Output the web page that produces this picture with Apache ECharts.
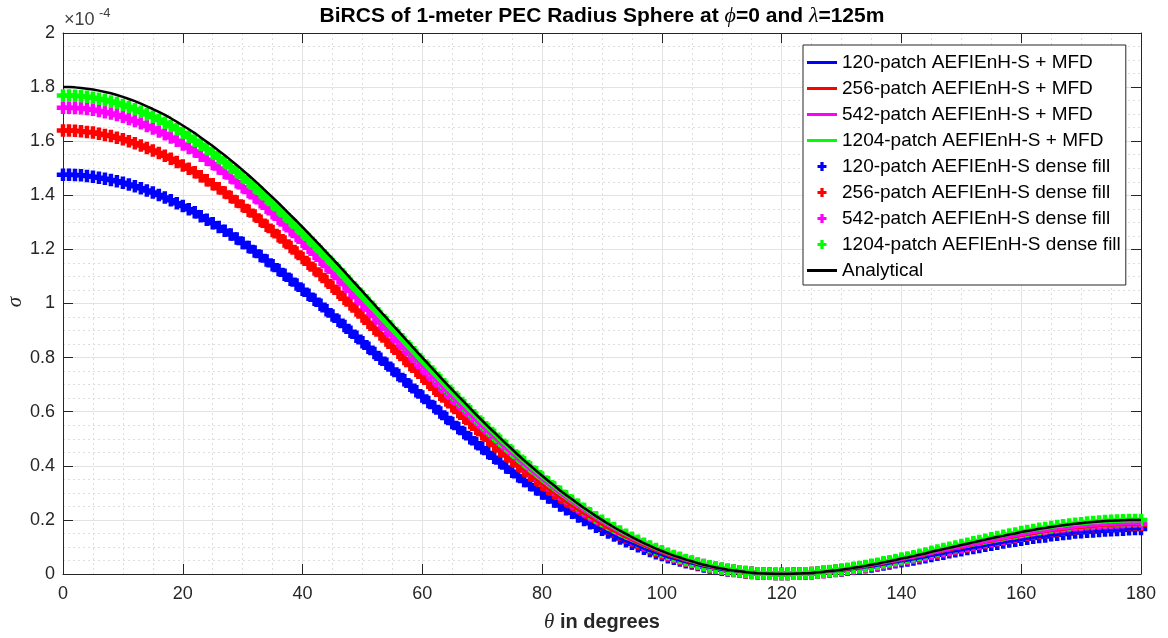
<!DOCTYPE html>
<html>
<head>
<meta charset="utf-8">
<title>BiRCS of 1-meter PEC Radius Sphere</title>
<script src="https://cdn.jsdelivr.net/npm/echarts@6/dist/echarts.min.js"></script>
<style>
  html, body { margin: 0; padding: 0; background: #fff; }
  #chart { width: 1168px; height: 638px; }
</style>
</head>
<body>
<div id="chart"></div>
<script>
// theta runs 0..180 deg, one sample per degree
var thetaStep = 1;
var xTicks = [0, 20, 40, 60, 80, 100, 120, 140, 160, 180];
var yTicks = [0, 0.2, 0.4, 0.6, 0.8, 1, 1.2, 1.4, 1.6, 1.8, 2];

// sigma in units of 1e-4
var analytical = [
  1.800,1.800,1.799,1.797,1.794,1.791,1.787,1.782,1.777,1.771,
  1.764,1.756,1.748,1.739,1.729,1.719,1.708,1.697,1.685,1.672,
  1.658,1.644,1.630,1.614,1.598,1.582,1.565,1.548,1.530,1.512,
  1.493,1.474,1.454,1.434,1.413,1.392,1.371,1.349,1.327,1.305,
  1.282,1.259,1.236,1.213,1.189,1.166,1.142,1.118,1.093,1.069,
  1.045,1.020,0.996,0.971,0.947,0.922,0.898,0.873,0.849,0.824,
  0.800,0.776,0.752,0.728,0.704,0.681,0.658,0.635,0.612,0.589,
  0.567,0.545,0.524,0.502,0.481,0.461,0.440,0.420,0.401,0.382,
  0.363,0.345,0.327,0.309,0.292,0.276,0.260,0.244,0.229,0.214,
  0.200,0.186,0.173,0.160,0.148,0.136,0.125,0.114,0.104,0.094,
  0.085,0.076,0.068,0.061,0.053,0.047,0.040,0.034,0.029,0.024,
  0.020,0.016,0.013,0.010,0.007,0.005,0.003,0.002,0.001,0.000,
  0.000,0.000,0.001,0.002,0.003,0.004,0.006,0.008,0.011,0.013,
  0.016,0.019,0.023,0.026,0.030,0.034,0.038,0.043,0.047,0.052,
  0.057,0.061,0.066,0.071,0.076,0.082,0.087,0.092,0.097,0.102,
  0.107,0.112,0.117,0.122,0.127,0.132,0.137,0.141,0.146,0.150,
  0.155,0.159,0.163,0.167,0.170,0.174,0.177,0.180,0.183,0.186,
  0.188,0.190,0.192,0.194,0.196,0.197,0.198,0.199,0.200,0.200,0.200
];

var patch120 = [
  1.476,1.476,1.475,1.474,1.471,1.469,1.465,1.461,1.457,1.452,
  1.446,1.440,1.433,1.426,1.418,1.410,1.401,1.392,1.382,1.371,
  1.360,1.348,1.337,1.323,1.310,1.297,1.283,1.269,1.255,1.240,
  1.224,1.209,1.192,1.176,1.159,1.141,1.124,1.106,1.088,1.070,
  1.051,1.032,1.014,0.995,0.975,0.956,0.936,0.917,0.896,0.877,
  0.857,0.836,0.817,0.796,0.777,0.756,0.736,0.716,0.696,0.676,
  0.656,0.636,0.617,0.597,0.577,0.558,0.540,0.521,0.502,0.483,
  0.465,0.447,0.430,0.412,0.394,0.378,0.361,0.344,0.329,0.313,
  0.298,0.283,0.268,0.253,0.239,0.226,0.213,0.200,0.188,0.175,
  0.164,0.153,0.142,0.131,0.121,0.112,0.103,0.093,0.085,0.077,
  0.070,0.062,0.056,0.050,0.043,0.039,0.033,0.028,0.024,0.020,
  0.016,0.013,0.011,0.008,0.006,0.004,0.002,0.002,0.001,0.000,
  0.000,0.000,0.001,0.002,0.002,0.003,0.005,0.007,0.009,0.011,
  0.013,0.016,0.019,0.021,0.025,0.028,0.031,0.035,0.039,0.043,
  0.047,0.050,0.054,0.058,0.062,0.067,0.071,0.075,0.080,0.084,
  0.088,0.092,0.096,0.100,0.104,0.108,0.112,0.116,0.120,0.123,
  0.127,0.130,0.134,0.137,0.139,0.143,0.145,0.148,0.150,0.153,
  0.154,0.156,0.157,0.159,0.161,0.162,0.163,0.164,0.165,0.166,0.166
];

var patch256 = [
  1.640,1.640,1.639,1.637,1.634,1.632,1.628,1.623,1.619,1.613,
  1.607,1.600,1.592,1.584,1.575,1.566,1.556,1.546,1.535,1.523,
  1.510,1.498,1.485,1.470,1.456,1.441,1.426,1.410,1.394,1.377,
  1.360,1.343,1.325,1.306,1.287,1.268,1.249,1.229,1.209,1.189,
  1.168,1.147,1.126,1.105,1.083,1.062,1.040,1.018,0.996,0.974,
  0.952,0.929,0.907,0.885,0.863,0.840,0.818,0.795,0.773,0.751,
  0.729,0.707,0.685,0.663,0.641,0.620,0.599,0.578,0.558,0.537,
  0.517,0.496,0.477,0.457,0.438,0.420,0.401,0.383,0.365,0.348,
  0.331,0.314,0.298,0.282,0.266,0.251,0.237,0.222,0.209,0.195,
  0.182,0.169,0.158,0.146,0.135,0.124,0.114,0.104,0.095,0.086,
  0.077,0.069,0.062,0.056,0.048,0.043,0.036,0.031,0.026,0.022,
  0.018,0.015,0.012,0.009,0.006,0.005,0.003,0.002,0.001,0.000,
  0.000,0.000,0.001,0.002,0.003,0.004,0.005,0.007,0.010,0.012,
  0.015,0.017,0.021,0.024,0.027,0.031,0.035,0.039,0.043,0.047,
  0.052,0.056,0.060,0.065,0.069,0.075,0.079,0.084,0.088,0.093,
  0.097,0.102,0.107,0.111,0.116,0.120,0.125,0.128,0.133,0.137,
  0.141,0.145,0.148,0.152,0.155,0.159,0.161,0.164,0.167,0.169,
  0.171,0.173,0.175,0.177,0.179,0.179,0.180,0.181,0.182,0.182,0.182
];

var patch542 = [
  1.724,1.724,1.723,1.722,1.719,1.716,1.712,1.707,1.702,1.697,
  1.690,1.682,1.675,1.666,1.656,1.647,1.636,1.626,1.614,1.602,
  1.588,1.575,1.562,1.546,1.531,1.516,1.499,1.483,1.466,1.448,
  1.430,1.412,1.393,1.374,1.354,1.334,1.313,1.292,1.271,1.250,
  1.228,1.206,1.184,1.162,1.139,1.117,1.094,1.071,1.047,1.024,
  1.001,0.977,0.954,0.930,0.907,0.883,0.860,0.836,0.813,0.789,
  0.766,0.743,0.720,0.697,0.674,0.652,0.630,0.608,0.586,0.564,
  0.543,0.522,0.502,0.481,0.461,0.442,0.422,0.402,0.384,0.366,
  0.348,0.331,0.313,0.296,0.280,0.264,0.249,0.234,0.219,0.205,
  0.192,0.178,0.166,0.153,0.142,0.130,0.120,0.109,0.100,0.090,
  0.081,0.073,0.065,0.058,0.051,0.045,0.038,0.033,0.028,0.023,
  0.019,0.015,0.012,0.010,0.007,0.005,0.003,0.002,0.001,0.000,
  0.000,0.000,0.001,0.002,0.003,0.004,0.006,0.007,0.010,0.012,
  0.015,0.018,0.021,0.024,0.028,0.032,0.035,0.040,0.044,0.048,
  0.053,0.057,0.061,0.066,0.071,0.076,0.081,0.086,0.090,0.095,
  0.100,0.104,0.109,0.113,0.118,0.123,0.127,0.131,0.136,0.140,
  0.144,0.148,0.152,0.155,0.158,0.162,0.165,0.167,0.170,0.173,
  0.175,0.177,0.179,0.180,0.182,0.183,0.184,0.185,0.186,0.186,0.186
];

var patch1204 = [
  1.769,1.769,1.768,1.766,1.764,1.761,1.757,1.752,1.747,1.741,
  1.734,1.726,1.718,1.709,1.700,1.690,1.679,1.668,1.656,1.644,
  1.630,1.616,1.602,1.587,1.571,1.555,1.538,1.522,1.504,1.486,
  1.468,1.449,1.429,1.410,1.389,1.368,1.348,1.326,1.304,1.283,
  1.260,1.238,1.215,1.192,1.169,1.146,1.123,1.099,1.074,1.051,
  1.027,1.003,0.979,0.954,0.931,0.906,0.883,0.858,0.835,0.810,
  0.786,0.763,0.739,0.716,0.692,0.669,0.647,0.624,0.602,0.579,
  0.557,0.536,0.515,0.493,0.473,0.453,0.433,0.413,0.394,0.376,
  0.357,0.339,0.321,0.304,0.287,0.271,0.256,0.240,0.225,0.210,
  0.197,0.183,0.170,0.157,0.145,0.134,0.123,0.112,0.102,0.092,
  0.084,0.075,0.067,0.060,0.052,0.046,0.039,0.033,0.029,0.024,
  0.020,0.016,0.013,0.010,0.007,0.005,0.003,0.002,0.001,0.000,
  0.000,0.000,0.001,0.002,0.003,0.004,0.006,0.008,0.011,0.013,
  0.016,0.019,0.023,0.026,0.030,0.034,0.038,0.043,0.047,0.052,
  0.057,0.061,0.066,0.071,0.076,0.082,0.087,0.092,0.097,0.102,
  0.107,0.112,0.117,0.122,0.127,0.132,0.137,0.141,0.146,0.150,
  0.155,0.159,0.163,0.167,0.170,0.174,0.177,0.180,0.183,0.186,
  0.188,0.190,0.192,0.194,0.196,0.197,0.198,0.199,0.200,0.200,0.200
];

var patchNames = ['120-patch', '256-patch', '542-patch', '1204-patch'];
var patchData = [patch120, patch256, patch542, patch1204];
var patchColors = ['#0000ff', '#ff0000', '#ff00ff', '#00ff00'];

var FONT = "'Liberation Sans', Arial, Helvetica, sans-serif";
var SERIF = "'Liberation Serif', 'DejaVu Serif', serif";
var AXIS_COLOR = '#262626';
var plusPath = 'path://M3.2,0H6.8V3.2H10V6.8H6.8V10H3.2V6.8H0V3.2H3.2Z';
var lineIcon = 'path://M0,0H30V3H0Z';

function toPairs(arr) {
    return arr.map(function (v, i) { return [i * thetaStep, v]; });
}

function makeAxisX(pos) {
    var bottom = pos === 'bottom';
    return {
        type: 'value',
        position: pos,
        min: xTicks[0],
        max: xTicks[xTicks.length - 1],
        interval: xTicks[1] - xTicks[0],
        axisLine: { show: true, onZero: false, lineStyle: { color: AXIS_COLOR, width: 1 } },
        axisTick: { show: true, inside: true, length: 10, lineStyle: { color: AXIS_COLOR } },
        axisLabel: { show: bottom, color: AXIS_COLOR, fontSize: 18, fontFamily: FONT, margin: 11 },
        splitLine: { show: bottom, lineStyle: { color: '#e3e3e3', width: 1 } },
        minorTick: { show: false, splitNumber: 4 },
        minorSplitLine: { show: bottom, lineStyle: { color: '#dedede', width: 1, type: [2, 3] } }
    };
}

function makeAxisY(pos) {
    var left = pos === 'left';
    return {
        type: 'value',
        position: pos,
        min: yTicks[0],
        max: yTicks[yTicks.length - 1],
        interval: yTicks[1] - yTicks[0],
        axisLine: { show: true, onZero: false, lineStyle: { color: AXIS_COLOR, width: 1 } },
        axisTick: { show: true, inside: true, length: 10, lineStyle: { color: AXIS_COLOR } },
        axisLabel: { show: left, color: AXIS_COLOR, fontSize: 18, fontFamily: FONT, margin: 8 },
        splitLine: { show: left, lineStyle: { color: '#e3e3e3', width: 1 } },
        minorTick: { show: false, splitNumber: 4 },
        minorSplitLine: { show: left, lineStyle: { color: '#dedede', width: 1, type: [2, 3] } }
    };
}

var xBottom = makeAxisX('bottom');
xBottom.name = '{i|θ}{b| in degrees}';
xBottom.nameLocation = 'middle';
xBottom.nameGap = 38;
xBottom.nameTextStyle = {
    rich: {
        i: { fontFamily: SERIF, fontStyle: 'italic', fontSize: 21, color: '#262626' },
        b: { fontFamily: FONT, fontWeight: 'bold', fontSize: 20, color: '#262626' }
    }
};

var series = [];
var legendData = [];

// MFD solid lines
patchData.forEach(function (arr, k) {
    var name = patchNames[k] + ' AEFIEnH-S + MFD';
    series.push({
        type: 'line', name: name, data: toPairs(arr),
        symbol: 'none', showSymbol: false,
        lineStyle: { color: patchColors[k], width: 2.5 },
        itemStyle: { color: patchColors[k] },
        animation: false
    });
    legendData.push({ name: name, icon: lineIcon });
});

// dense fill markers
patchData.forEach(function (arr, k) {
    var name = patchNames[k] + ' AEFIEnH-S dense fill';
    series.push({
        type: 'scatter', name: name, data: toPairs(arr),
        symbol: plusPath, symbolSize: 12.5,
        itemStyle: { color: patchColors[k], opacity: 1 },
        clip: false, animation: false
    });
    legendData.push({ name: name, icon: plusPath });
});

series.push({
    type: 'line', name: 'Analytical', data: toPairs(analytical),
    symbol: 'none', showSymbol: false,
    lineStyle: { color: '#000000', width: 2.5 },
    itemStyle: { color: '#000000' },
    animation: false
});
legendData.push({ name: 'Analytical', icon: lineIcon });

var chart = echarts.init(document.getElementById('chart'), null, { renderer: 'canvas' });

chart.setOption({
    backgroundColor: '#ffffff',
    animation: false,
    grid: { left: 63, top: 33, right: 27, bottom: 64, containLabel: false, outerBoundsMode: 'none' },
    xAxis: [xBottom, makeAxisX('top')],
    yAxis: [makeAxisY('left'), makeAxisY('right')],
    legend: {
        orient: 'vertical',
        left: 803,
        top: 45,
        padding: [8, 5, 5, 4],
        itemGap: 7,
        itemWidth: 30,
        itemHeight: 9,
        backgroundColor: '#ffffff',
        borderColor: AXIS_COLOR,
        borderWidth: 1,
        borderRadius: 0,
        selectedMode: false,
        textStyle: { color: '#000000', fontSize: 19, fontFamily: FONT },
        data: legendData
    },
    graphic: [
        {
            type: 'text', x: 602, y: 16,
            style: {
                text: '{b|BiRCS of 1-meter PEC Radius Sphere at }{i|ϕ}{b|=0 and }{i|λ}{b|=125m}',
                align: 'center', verticalAlign: 'middle',
                rich: {
                    b: { fontFamily: FONT, fontWeight: 'bold', fontSize: 21, fill: '#000000' },
                    i: { fontFamily: SERIF, fontStyle: 'italic', fontSize: 22, fill: '#000000' }
                }
            }
        },
        {
            // y axis label
            type: 'text', x: 15, y: 302, rotation: Math.PI / 2,
            style: {
                text: 'σ', fontFamily: SERIF, fontStyle: 'italic', fontSize: 21,
                fill: '#262626', align: 'center', verticalAlign: 'middle'
            }
        },
        {
            type: 'text', x: 64, y: 20,
            style: { text: '×10', fontFamily: FONT, fontSize: 18, fill: '#404040', align: 'left', verticalAlign: 'middle' }
        },
        {
            type: 'text', x: 99, y: 13,
            style: { text: '-4', fontFamily: FONT, fontSize: 13, fill: '#404040', align: 'left', verticalAlign: 'middle' }
        }
    ],
    series: series
});
</script>
</body>
</html>
